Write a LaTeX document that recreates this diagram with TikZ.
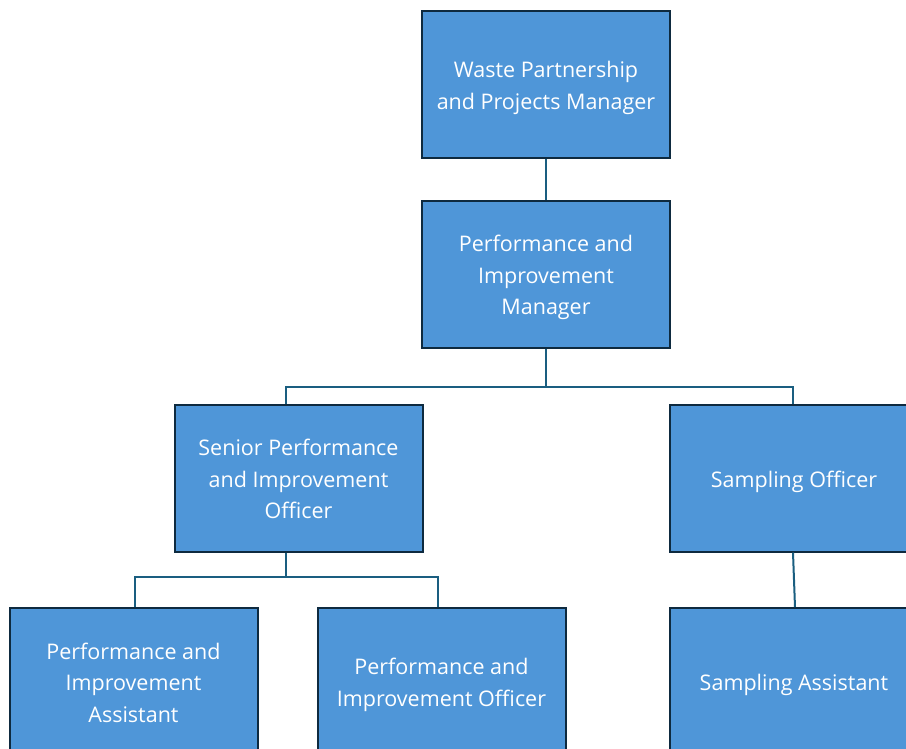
\documentclass[tikz,border=0pt]{standalone}
\usepackage{fontspec}
\setmainfont{Open Sans}
\definecolor{boxfill}{HTML}{4F96D8}
\definecolor{boxline}{HTML}{0E2A3F}
\definecolor{connline}{HTML}{1A5E80}
\newcommand\topstrut{\rule{0pt}{24pt}}
\newcommand\botstrut{\rule[-6pt]{0pt}{6pt}}
\begin{document}
\begin{tikzpicture}[x=1pt,y=-1pt,
  orgbox/.style={draw=boxline, line width=2pt, fill=boxfill, minimum width=248pt, minimum height=147pt,
    inner sep=0pt, align=center, text=white, font=\fontsize{21.5}{31.5}\selectfont, anchor=center},
  conn/.style={draw=connline, line width=2pt}]
\useasboundingbox (0,0) rectangle (906,748);
\clip (0,0) rectangle (906,748);
\fill[white] (0,0) rectangle (906,748);
\node[orgbox] (top) at (546,84.5) {\topstrut Waste Partnership\\and Projects Manager\botstrut};
\node[orgbox] (pim) at (546,274) {\topstrut Performance and\\Improvement\\Manager\botstrut};
\node[orgbox] (senior) at (298.5,478) {\topstrut Senior Performance\\and Improvement\\Officer\botstrut};
\node[orgbox] (samp) at (794,478) {\topstrut Sampling Officer\botstrut};
\node[orgbox] (pia) at (133.5,681.5) {\topstrut Performance and\\Improvement\\Assistant\botstrut};
\node[orgbox] (pio) at (441.5,681.5) {\topstrut Performance and\\Improvement Officer\botstrut};
\node[orgbox] (sa) at (794,681.5) {\topstrut Sampling Assistant\botstrut};
\coordinate (j1) at (546,387);
\coordinate (j2) at (286,577);
\draw[conn] (top.south) -- (pim.south |- top.south) -- (pim.north);
\draw[conn] (pim.south) -- (j1);
\draw[conn] ([xshift=-12.5pt]senior.north) |- (j1) -| ([xshift=-1pt]samp.north);
\draw[conn] ([xshift=-12.5pt]senior.south) -- (j2);
\draw[conn] ([xshift=1.5pt]pia.north) |- (j2) -| ([xshift=-3.5pt]pio.north);
\draw[conn] ([xshift=-1pt]samp.south) -- ([xshift=1pt]sa.north);
\end{tikzpicture}
\end{document}
